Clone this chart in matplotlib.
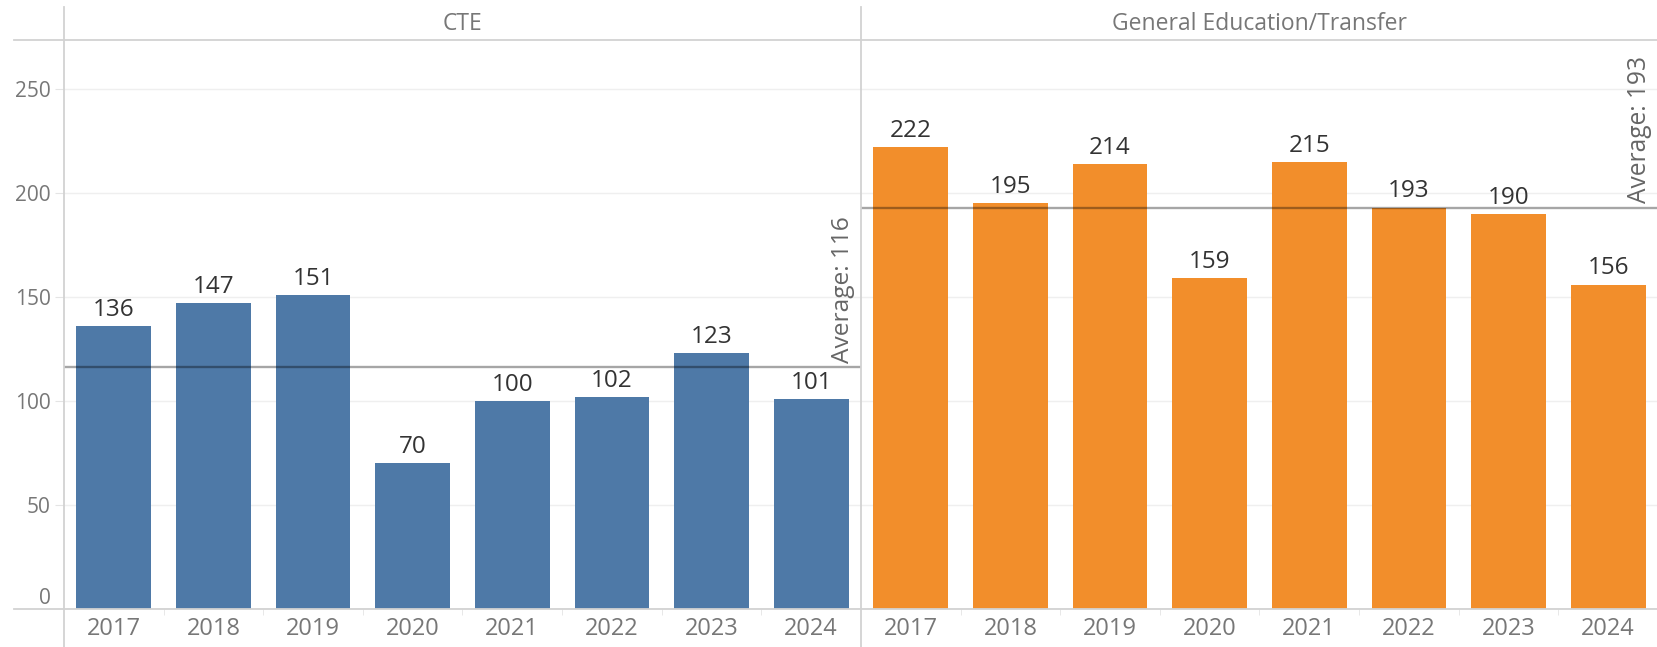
import matplotlib.pyplot as plt
from matplotlib.lines import Line2D

years = ["2017", "2018", "2019", "2020", "2021", "2022", "2023", "2024"]
cte = [136, 147, 151, 70, 100, 102, 123, 101]
gen_ed = [222, 195, 214, 159, 215, 193, 190, 156]
panels = ["CTE", "General Education/Transfer"]
colours = ["#4e79a7", "#f28e2b"]
y_ticks = [0, 50, 100, 150, 200, 250]

W, H = 1658, 647
plt.rcParams["font.family"] = ["Open Sans", "DejaVu Sans"]

fig = plt.figure(figsize=(W / 100, H / 100), dpi=100)


def px_rect(x0, y_top, x1, y_bot):
    return [x0 / W, 1 - y_bot / H, (x1 - x0) / W, (y_bot - y_top) / H]


def fig_line(x0, y0, x1, y1, **kw):
    fig.add_artist(Line2D([x0 / W, x1 / W], [1 - y0 / H, 1 - y1 / H],
                          transform=fig.transFigure, **kw))


ax_top, ax_bot = 40, 609
edges = [64, 861, 1658]
avg_labels = []
for k, (name, vals, col) in enumerate(zip(panels, [cte, gen_ed], colours)):
    ax = fig.add_axes(px_rect(edges[k], ax_top, edges[k + 1], ax_bot))
    x = list(range(len(years)))
    ax.bar(x, vals, width=0.75, color=col, zorder=2)
    ax.set_xlim(-0.5, len(years) - 0.5)
    ax.set_ylim(0, (ax_bot - ax_top) / 2.08)
    for s in ax.spines.values():
        s.set_visible(False)
    ax.set_yticks(y_ticks)
    ax.yaxis.grid(True, color="#efefef", lw=1, zorder=0)
    ax.tick_params(axis="y", length=6.5, color="#e4e4e4", labelsize=15,
                   labelcolor="#777777", pad=3)
    if k > 0:
        ax.tick_params(axis="y", length=0, labelleft=False)
    else:
        # the zero label sits just above the baseline
        ax.get_yticklabels()[0].set_verticalalignment("bottom")
        ax.yaxis.get_major_ticks()[0].tick1line.set_visible(False)
    ax.set_xticks(x)
    ax.set_xticklabels(years)
    ax.set_xticks([i + 0.5 for i in x[:-1]], minor=True)
    ax.tick_params(axis="x", which="major", length=0, labelsize=17,
                   labelcolor="#777777", pad=6)
    ax.tick_params(axis="x", which="minor", length=4, color="#e4e4e4")

    for i, v in enumerate(vals):
        ax.annotate(str(v), (i, v), xytext=(0, 3), textcoords="offset points",
                    ha="center", va="bottom", fontsize=17.5, color="#333333")

    avg = sum(vals) / len(vals)
    ax.axhline(avg, color="black", alpha=0.35, lw=1.7, zorder=3)
    t = ax.annotate(f"Average: {avg:.0f}", (1, avg),
                    xycoords=("axes fraction", "data"), xytext=(-4, 3),
                    textcoords="offset points", rotation=90, ha="right",
                    va="bottom", fontsize=15.6, color="#666666")
    avg_labels.append(t)

    ax.text(0.5, 1 + 16 / (ax_bot - ax_top), name, transform=ax.transAxes,
            ha="center", va="center", fontsize=16.5, color="#777777")

# stretch the average labels to the length they have in the source (~147 px)
renderer = fig.canvas.get_renderer()
for t in avg_labels:
    t.set_fontstretch("expanded")
    h = t.get_window_extent(renderer).height
    t.set_fontsize(t.get_fontsize() * 147 / h)

line_kw = dict(color="#d2d2d2", lw=1.3)
fig_line(14, ax_top, W, ax_top, **line_kw)
fig_line(14, ax_bot, W, ax_bot, **line_kw)
for xe in edges[:2]:
    fig_line(xe, 7, xe, H, **line_kw)

fig.savefig("out.png", dpi=100, facecolor="white")
